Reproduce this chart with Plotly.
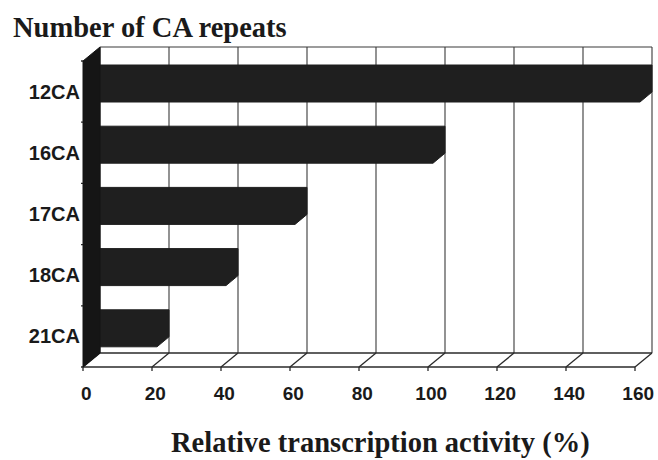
import plotly.graph_objects as go

# ---- data ----
categories = ["12CA", "16CA", "17CA", "18CA", "21CA"]
values = [160, 100, 60, 40, 20]
x_ticks = [0, 20, 40, 60, 80, 100, 120, 140, 160]
x_title = "Relative transcription activity (%)"
y_title = "Number of CA repeats"

# ---- 3D-look geometry (in axis units) ----
N = len(categories)
PX_X = 69 / 20.0      # pixels per value unit
PX_Y = 61.2           # pixels per category band
DX = 17 / PX_X        # full depth offset (x)
DY = 14 / PX_Y        # full depth offset (y)
BDX = 12 / PX_X       # bar depth offset
BDY = 10 / PX_Y
BAR_TOP = 18 / PX_Y   # gap between band top and bar top (back face)
BAR_H = 27 / PX_Y     # back face height

W, H = 658, 460
L, R, T, B = 81, 2, 44, 88
xmin = (L - 100) / PX_X
xmax = (W - R - 100) / PX_X
ymax = (353 - T) / PX_Y
ymin = (353 - (H - B)) / PX_Y

fig = go.Figure()

# back wall: gridlines + top border
gx, gy = [], []
for t in x_ticks:
    gx += [t, t, None]
    gy += [0, N, None]
gx += [0, x_ticks[-1], None]
gy += [N, N, None]
fig.add_trace(go.Scatter(x=gx, y=gy, mode="lines",
                         line=dict(color="#3a3a3a", width=1.1), hoverinfo="skip"))

# floor
fx, fy = [], []
fx += [0, x_ticks[-1], None]; fy += [0, 0, None]
fx += [-DX, x_ticks[-1] - DX, None]; fy += [-DY, -DY, None]
for t in x_ticks:
    fx += [t - DX, t, None]; fy += [-DY, 0, None]
    fx += [t - DX, t - DX, None]; fy += [-DY, -DY - 4 / PX_Y, None]
# small category ticks on the front left edge
for k in range(N + 1):
    fx += [-DX, -DX - 3 / PX_X, None]; fy += [k - DY, k - DY, None]
fig.add_trace(go.Scatter(x=fx, y=fy, mode="lines",
                         line=dict(color="#2a2a2a", width=1.3), hoverinfo="skip"))

# bars
for i, (c, v) in enumerate(zip(categories, values)):
    top = N - i - BAR_TOP
    bot = top - BAR_H
    px = [0, v, v, v - BDX, -BDX, 0]
    py = [top, top, bot, bot - BDY, bot - BDY, top]
    fig.add_trace(go.Scatter(x=px, y=py, mode="lines", fill="toself",
                             fillcolor="#1f1f1f", line=dict(color="#1f1f1f", width=1),
                             name=c, hoverinfo="skip"))

# left side wall
fig.add_trace(go.Scatter(x=[-DX, -DX, 0, 0, -DX], y=[-DY, N - DY, N, 0, -DY],
                         mode="lines", fill="toself", fillcolor="#151515",
                         line=dict(color="#151515", width=1), hoverinfo="skip"))

fig.update_layout(
    width=W, height=H,
    margin=dict(l=L, r=R, t=T, b=B),
    paper_bgcolor="white", plot_bgcolor="white",
    showlegend=False,
    xaxis=dict(range=[xmin, xmax], showgrid=False, zeroline=False, showline=False,
               tickmode="array", tickvals=[t - 4 for t in x_ticks],
               ticktext=[str(t) for t in x_ticks], ticks="",
               ticklabelstandoff=8,
               tickfont=dict(family="Liberation Sans", size=19, color="#1a1a1a", weight="bold")),
    yaxis=dict(range=[ymin, ymax], showgrid=False, zeroline=False, showline=False,
               tickmode="array", tickvals=[N - 0.5 - i - DY for i in range(N)],
               ticktext=categories, ticks="", ticklabelstandoff=0,
               tickfont=dict(family="Liberation Sans", size=20, color="#1a1a1a", weight="bold")),
    annotations=[
        dict(text=y_title, xref="paper", yref="paper",
             x=(11 - L) / (W - L - R), y=(H - B - 27) / (H - B - T),
             xanchor="left", yanchor="middle", showarrow=False,
             font=dict(family="Liberation Serif", size=28.5, color="#1a1a1a", weight="bold")),
        dict(text=x_title, xref="paper", yref="paper",
             x=(380 - L) / (W - L - R), y=(H - B - 443) / (H - B - T),
             xanchor="center", yanchor="middle", showarrow=False,
             font=dict(family="Liberation Serif", size=28.5, color="#1a1a1a", weight="bold")),
    ],
)

fig.write_html("out.html", config={"displayModeBar": False},
               post_script="document.body.style.margin='0';document.body.style.overflow='hidden';")
